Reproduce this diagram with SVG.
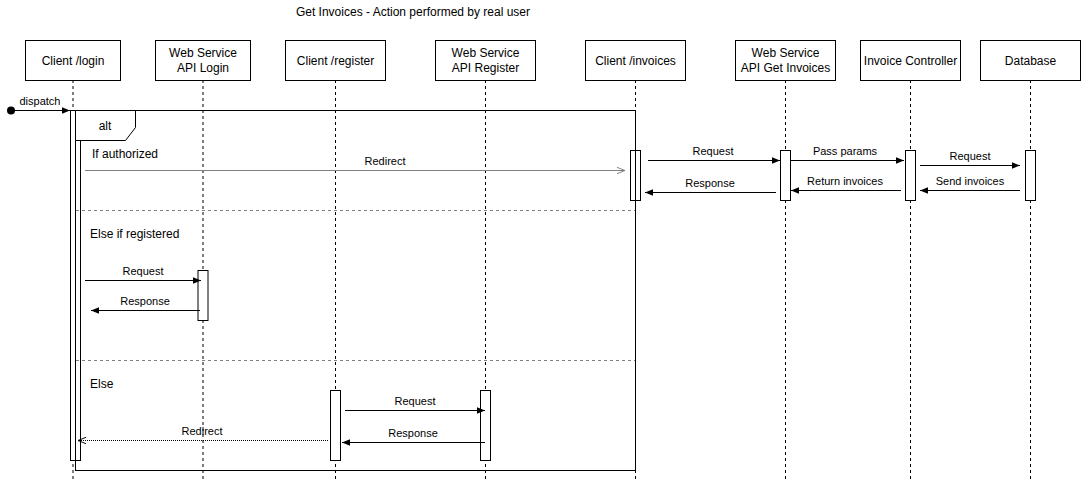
<svg xmlns="http://www.w3.org/2000/svg" width="1081" height="481" viewBox="0 0 1081 481">
<style>
text{font-family:"Liberation Sans",Arial,sans-serif;fill:#000}
.hd{font-size:12px;text-anchor:middle}
.lb{font-size:11px;text-anchor:middle}
.gt{font-size:12px}
.box{fill:#fff;stroke:#000;stroke-width:1}
.life{stroke:#000;stroke-width:1;stroke-dasharray:3 3;fill:none}
.act{fill:#fff;stroke:#000;stroke-width:1}
.msg{stroke:#000;stroke-width:1;fill:none;marker-end:url(#fill)}
.sep{stroke:#808080;stroke-width:1;stroke-dasharray:3 3;fill:none}
</style>
<defs>
<marker id="fill" viewBox="0 0 10 10" refX="10" refY="5" markerWidth="8" markerHeight="8" orient="auto" markerUnits="userSpaceOnUse"><path d="M0,1 L10,5 L0,9 Z" fill="#000"/></marker>
<marker id="open" viewBox="0 0 10 10" refX="10" refY="5" markerWidth="8" markerHeight="8" orient="auto" markerUnits="userSpaceOnUse"><path d="M0,1 L10,5 L0,9" fill="none" stroke="#808080" stroke-width="1.2"/></marker>
<marker id="open2" viewBox="0 0 10 10" refX="10" refY="5" markerWidth="8" markerHeight="8" orient="auto" markerUnits="userSpaceOnUse"><path d="M0,1 L10,5 L0,9" fill="none" stroke="#000" stroke-width="1.2"/></marker>
</defs>
<rect width="1081" height="481" fill="#fff"/>
<text x="413" y="16" class="gt" text-anchor="middle">Get Invoices - Action performed by real user</text>

<g id="lifelines">
<line class="life" x1="73" y1="80" x2="73" y2="481"/>
<line class="life" x1="203" y1="80" x2="203" y2="481"/>
<line class="life" x1="335.5" y1="80" x2="335.5" y2="481"/>
<line class="life" x1="485.5" y1="80" x2="485.5" y2="481"/>
<line class="life" x1="635.5" y1="80" x2="635.5" y2="481"/>
<line class="life" x1="785.5" y1="80" x2="785.5" y2="481"/>
<line class="life" x1="910.5" y1="80" x2="910.5" y2="481"/>
<line class="life" x1="1030.5" y1="80" x2="1030.5" y2="481"/>
</g>

<g id="client-login"><rect class="box" x="25.5" y="40.5" width="95" height="40"/><text class="hd" x="73" y="65">Client /login</text></g>
<g id="ws-login"><rect class="box" x="155.5" y="40.5" width="95" height="40"/><text class="hd" x="203" y="57">Web Service</text><text class="hd" x="203" y="72">API Login</text></g>
<g id="client-register"><rect class="box" x="285.5" y="40.5" width="100" height="40"/><text class="hd" x="335.5" y="65">Client /register</text></g>
<g id="ws-register"><rect class="box" x="435.5" y="40.5" width="100" height="40"/><text class="hd" x="485.5" y="57">Web Service</text><text class="hd" x="485.5" y="72">API Register</text></g>
<g id="client-invoices"><rect class="box" x="585.5" y="40.5" width="100" height="40"/><text class="hd" x="635.5" y="65">Client /invoices</text></g>
<g id="ws-invoices"><rect class="box" x="735.5" y="40.5" width="100" height="40"/><text class="hd" x="785.5" y="57">Web Service</text><text class="hd" x="785.5" y="72">API Get Invoices</text></g>
<g id="invoice-controller"><rect class="box" x="860.5" y="40.5" width="100" height="40"/><text class="hd" x="910.5" y="65">Invoice Controller</text></g>
<g id="database"><rect class="box" x="980.5" y="40.5" width="100" height="40"/><text class="hd" x="1030.5" y="65">Database</text></g>

<g id="activations">
<rect class="act" x="70.5" y="110.5" width="10" height="350"/>
<rect class="act" x="630.5" y="150.5" width="10" height="50"/>
<rect class="act" x="780.5" y="150.5" width="10" height="50"/>
<rect class="act" x="905.5" y="150.5" width="10" height="50"/>
<rect class="act" x="1025.5" y="150.5" width="10" height="50"/>
<rect class="act" x="198" y="270.5" width="10" height="50" stroke="#555"/>
<rect class="act" x="330.5" y="390.5" width="10" height="70"/>
<rect class="act" x="480.5" y="390.5" width="10" height="70"/>
</g>

<g id="alt-frame">
<rect x="75.5" y="110.5" width="560" height="360" fill="none" stroke="#000"/>
<path d="M75.5,110.5 L135.5,110.5 L135.5,127.5 L125.5,140.5 L75.5,140.5 Z" fill="#fff" stroke="#000"/>
<text x="105" y="130" class="gt" text-anchor="middle">alt</text>
<line class="sep" x1="76" y1="210.5" x2="635" y2="210.5"/>
<line class="sep" x1="76" y1="360.5" x2="635" y2="360.5"/>
<text x="92" y="158" class="gt">If authorized</text>
<text x="90" y="238" class="gt">Else if registered</text>
<text x="90" y="388" class="gt">Else</text>
</g>

<g id="connectors">
<circle cx="11" cy="110.5" r="4" fill="#000"/>
<line class="msg" x1="11" y1="110.5" x2="70" y2="110.5"/>
<text class="lb" x="40" y="105">dispatch</text>

<line x1="85" y1="170.5" x2="625" y2="170.5" stroke="#808080" marker-end="url(#open)"/>
<text class="lb" x="385" y="165">Redirect</text>

<line class="msg" x1="648" y1="160.5" x2="780" y2="160.5"/>
<text class="lb" x="713" y="155">Request</text>
<line class="msg" x1="776" y1="192.5" x2="645" y2="192.5"/>
<text class="lb" x="710" y="187">Response</text>

<line class="msg" x1="791" y1="160.5" x2="904" y2="160.5"/>
<text class="lb" x="845" y="155">Pass params</text>
<line class="msg" x1="901" y1="190.5" x2="791" y2="190.5"/>
<text class="lb" x="845" y="185">Return invoices</text>

<line class="msg" x1="920" y1="165.5" x2="1020" y2="165.5"/>
<text class="lb" x="970" y="160">Request</text>
<line class="msg" x1="1020" y1="190.5" x2="920" y2="190.5"/>
<text class="lb" x="970" y="185">Send invoices</text>

<line class="msg" x1="85" y1="280.5" x2="201" y2="280.5"/>
<text class="lb" x="143" y="275">Request</text>
<line class="msg" x1="200" y1="310.5" x2="91" y2="310.5"/>
<text class="lb" x="145" y="305">Response</text>

<line class="msg" x1="345" y1="410.5" x2="485" y2="410.5"/>
<text class="lb" x="415" y="405">Request</text>
<line class="msg" x1="485" y1="442.5" x2="342" y2="442.5"/>
<text class="lb" x="413" y="437">Response</text>

<line x1="328" y1="440.5" x2="78" y2="440.5" stroke="#000" stroke-dasharray="1 1" marker-end="url(#open2)"/>
<text class="lb" x="202" y="435">Redirect</text>
</g>
</svg>
